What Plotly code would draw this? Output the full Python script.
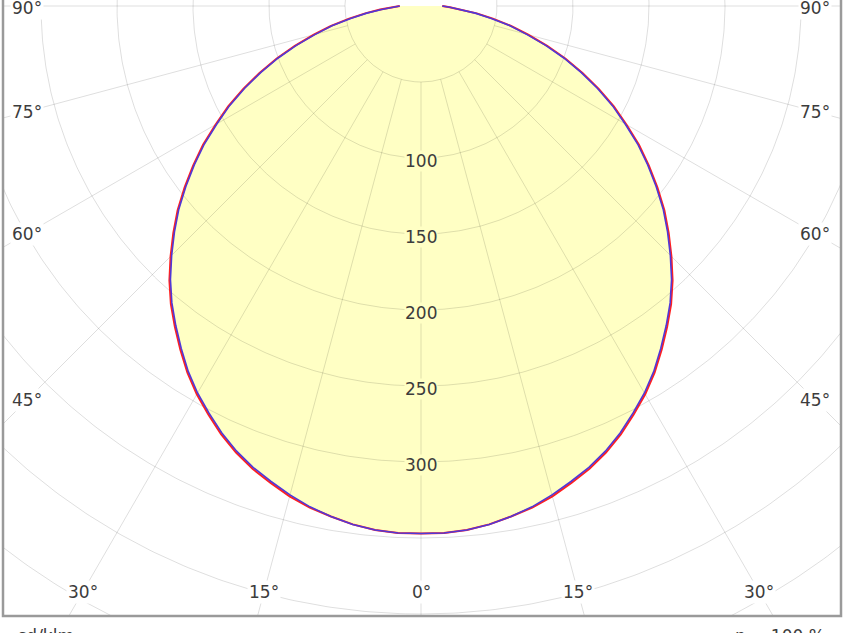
import numpy as np
import plotly.graph_objects as go

# ---- data ----
gamma_deg = [0, 2.5, 5, 7.5, 10, 12.5, 15, 17.5, 20, 22.5, 25, 27.5, 30, 32.5, 35, 37.5, 40,
             42.5, 45, 47.5, 50, 52.5, 55, 57.5, 60, 62.5, 65, 67.5, 70, 72.5, 75, 77.5, 80,
             82.5, 85, 87.5, 90]
c0_c180 = [347, 347, 346, 344, 341, 338, 334, 329, 324, 318, 311, 303, 295, 286, 276, 266, 256,
           245, 233, 221, 209, 196, 183, 170, 156, 143, 129, 115, 101, 87, 73, 61, 48,
           37, 27, 19, 14]
c90_c270 = [347, 347, 346, 344, 341, 337.5, 333, 328, 323, 317, 310, 302, 294, 285, 275, 265, 255,
            244, 232, 220, 208, 195, 182, 169, 155, 142, 128, 114, 100, 86, 72, 60, 47,
            36, 26, 19, 14]
ring_values = [50, 100, 150, 200, 250, 300, 350, 400, 450, 500]
ring_labels = [100, 150, 200, 250, 300]
angle_ticks = [0, 15, 30, 45, 60, 75, 90]
unit_text = "cd/klm"
eta_text = "η = 100 %"

# ---- layout constants ----
W, H = 844, 633
ML, MR, MT, MB = 3, 3, 0, 17
CX, CY = 421, 6          # pixel of the polar origin
S = 1.52                 # pixels per cd
x_range = [(ML - CX) / S, (W - MR - CX) / S]
y_range = [-(H - MB - CY) / S, CY / S]

FILL = "#FFFFC4"
GRID = "rgba(0,0,0,0.13)"
FONT = "DejaVu Sans"
FS = 17
TXT = "#3c3c3c"


def to_xy(angles_deg, values):
    a = np.radians(np.asarray(angles_deg, dtype=float))
    r = np.asarray(values, dtype=float)
    return r * np.sin(a), -r * np.cos(a)


def full_curve(values):
    ang = [-g for g in gamma_deg[::-1]] + gamma_deg[1:]
    vals = values[::-1] + values[1:]
    return to_xy(ang, vals)


fig = go.Figure()

# fill
fx, fy = full_curve(c90_c270)
fig.add_trace(go.Scatter(x=list(fx) + [fx[0]], y=list(fy) + [fy[0]], mode="lines",
                         fill="toself", fillcolor=FILL, line=dict(width=0),
                         hoverinfo="skip", showlegend=False))

# rings
t = np.linspace(0, 360, 721)
for rv in ring_values:
    gx, gy = to_xy(t, [rv] * len(t))
    fig.add_trace(go.Scatter(x=gx, y=gy, mode="lines", line=dict(color=GRID, width=1),
                             hoverinfo="skip", showlegend=False))

# radial lines
for a in angle_ticks:
    for sgn in ([1] if a == 0 else [1, -1]):
        gx, gy = to_xy([sgn * a, sgn * a], [ring_values[0], 800])
        fig.add_trace(go.Scatter(x=gx, y=gy, mode="lines", line=dict(color=GRID, width=1),
                                 hoverinfo="skip", showlegend=False))

# curves
rx, ry = full_curve(c0_c180)
fig.add_trace(go.Scatter(x=rx, y=ry, mode="lines", name="C0 - C180",
                         line=dict(color="#ff2020", width=2.0), showlegend=False))
bx, by = full_curve(c90_c270)
fig.add_trace(go.Scatter(x=bx, y=by, mode="lines", name="C90 - C270",
                         line=dict(color="#5038d8", width=1.6), showlegend=False))

annotations = []
# radial value labels
for v in ring_labels:
    annotations.append(dict(x=0, y=-v, xref="x", yref="y", text=str(v), showarrow=False,
                            yshift=-3, font=dict(family=FONT, size=FS, color=TXT),
                            bgcolor=FILL, borderpad=0))

# angle labels on inset rectangle
half_w = 259.5
bottom = -385.5
for a in angle_ticks:
    for sgn in ([1] if a == 0 else [1, -1]):
        ang = np.radians(a)
        if a == 90:
            lx, ly = sgn * half_w, -1.5
        else:
            xb = -bottom * np.tan(ang)
            if xb <= half_w:
                lx, ly = sgn * xb, bottom
            else:
                lx, ly = sgn * half_w, -half_w / np.tan(ang)
        annotations.append(dict(x=lx, y=ly, xref="x", yref="y", text=f"{a}°", showarrow=False,
                                font=dict(family=FONT, size=FS, color=TXT),
                                bgcolor="white", borderpad=1))

plot_h = H - MT - MB
footer_y = -(636 - (H - MB)) / plot_h
annotations.append(dict(x=12 / W, y=footer_y, xref="paper", yref="paper", text=unit_text,
                        showarrow=False, xanchor="left", yanchor="middle",
                        font=dict(family=FONT, size=FS, color=TXT)))
annotations.append(dict(x=830 / W, y=footer_y, xref="paper", yref="paper", text=eta_text,
                        showarrow=False, xanchor="right", yanchor="middle",
                        font=dict(family=FONT, size=FS, color=TXT)))

fig.update_layout(
    width=W, height=H,
    margin=dict(l=ML, r=MR, t=MT, b=MB),
    paper_bgcolor="white", plot_bgcolor="white",
    xaxis=dict(range=x_range, visible=False, fixedrange=True),
    yaxis=dict(range=y_range, visible=False, fixedrange=True),
    annotations=annotations,
    shapes=[dict(type="path", xref="paper", yref="paper",
                 path="M 0,1.02 L 0,0 L 1,0 L 1,1.02",
                 line=dict(color="#9a9a9a", width=2.5))],
    showlegend=False,
)

fig.write_html("out.html")
